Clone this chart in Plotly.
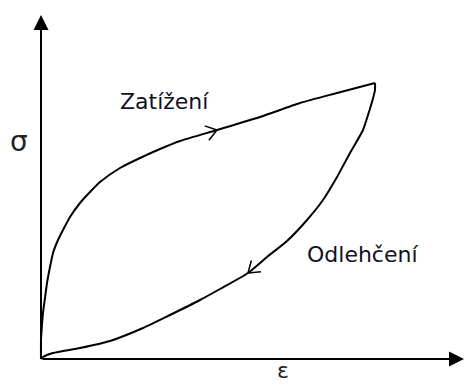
import math
import plotly.graph_objects as go

# Loading branch (strain, stress) in drawing units
load_eps = [0, 0, 1, 2, 4, 6, 9, 12, 17, 22, 29, 39, 49, 59, 79, 99, 119, 139, 176, 219, 259, 296, 334]
load_sig = [0, 19, 34, 46, 61, 76, 92, 106, 119, 129, 142, 156, 167, 177, 191, 201, 210, 218, 229, 242, 256, 266, 276]

# Unloading branch, from the peak back to the origin
unload_eps = [334, 334, 331, 327, 322, 309, 296, 282, 266, 246, 226, 207, 179, 159, 129, 102, 69, 39, 12, 2, 0]
unload_sig = [276, 269, 257, 244, 229, 206, 182, 159, 139, 118, 102, 86, 70, 59, 44, 31, 18, 11, 6, 2, 0]

# Index of the point on each branch where the direction arrow sits
load_arrow_idx = 18
unload_arrow_idx = 11

labels = {"load": "Zatížení", "unload": "Odlehčení", "x": "ε", "y": "σ"}

X_RANGE = [-41, 424]
Y_RANGE = [-26, 359]
LINE = dict(color="black", width=2)

fig = go.Figure()
fig.add_trace(go.Scatter(x=load_eps, y=load_sig, mode="lines", line=dict(shape="spline", smoothing=0.6, **LINE),
                         hoverinfo="skip", showlegend=False))
fig.add_trace(go.Scatter(x=unload_eps, y=unload_sig, mode="lines", line=dict(shape="spline", smoothing=0.6, **LINE),
                         hoverinfo="skip", showlegend=False))


def chevron(xs, ys, i, length=13, spread=math.radians(35)):
    """Open arrowhead at point i, pointing along the direction of travel."""
    tx, ty = xs[i], ys[i]
    dx, dy = xs[i - 1] - tx, ys[i - 1] - ty
    back = math.atan2(dy, dx)
    px, py = [], []
    for s in (spread, -spread):
        px += [tx + length * math.cos(back + s), tx, None]
        py += [ty + length * math.sin(back + s), ty, None]
    return px, py


for xs, ys, i in ((load_eps, load_sig, load_arrow_idx), (unload_eps, unload_sig, unload_arrow_idx)):
    cx, cy = chevron(xs, ys, i)
    fig.add_trace(go.Scatter(x=cx, y=cy, mode="lines", line=dict(color="black", width=1.5),
                             hoverinfo="skip", showlegend=False))

# Coordinate axes with filled arrowheads
for tip in ((X_RANGE[1] - 1, 0), (0, Y_RANGE[1] - 15)):
    fig.add_annotation(x=tip[0], y=tip[1], ax=0, ay=0, axref="x", ayref="y", xref="x", yref="y",
                       text="", showarrow=True, arrowhead=2, arrowsize=1.5, arrowwidth=2,
                       arrowcolor="black", standoff=0)

font = dict(family="DejaVu Sans", size=22, color="#111122")
fig.add_annotation(x=123, y=258, text=labels["load"], showarrow=False, font=font)
fig.add_annotation(x=321, y=105, text=labels["unload"], showarrow=False, font=font)
fig.add_annotation(x=242, y=0, yref="paper", yanchor="bottom", text=labels["x"], showarrow=False,
                   font=dict(family="DejaVu Sans", size=22, color="#222222"))
fig.add_annotation(x=-22, y=218, text=labels["y"], showarrow=False,
                   font=dict(family="DejaVu Sans", size=28, color="#222222"))

fig.update_xaxes(range=X_RANGE, visible=False)
fig.update_yaxes(range=Y_RANGE, visible=False)
fig.update_layout(width=465, height=385, margin=dict(l=0, r=0, t=0, b=0),
                  paper_bgcolor="white", plot_bgcolor="white")

fig.write_html("out.html")
